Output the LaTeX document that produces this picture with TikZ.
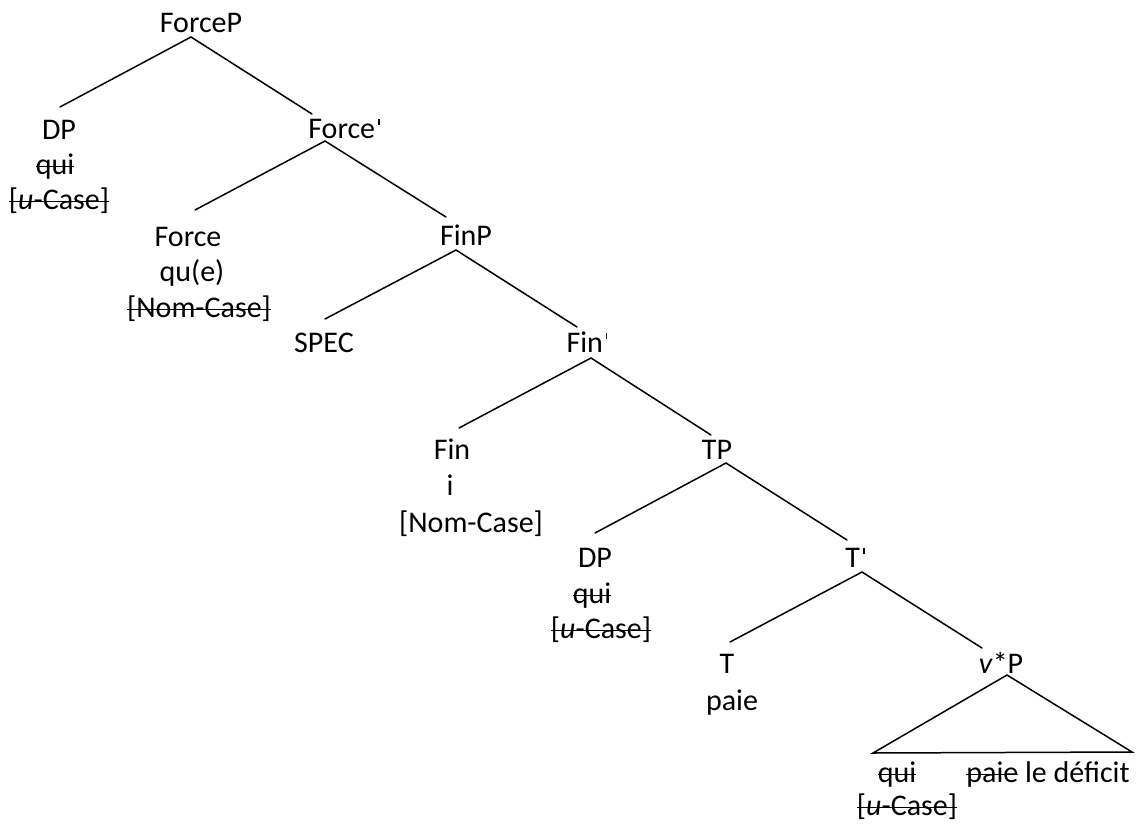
\documentclass[tikz,border=0pt]{standalone}
\usepackage{fontspec}
\setmainfont{Carlito}
\newcommand\stk[1]{\setbox0\hbox{#1}\rlap{\rule[0.23em]{\wd0}{1.3pt}}\box0\relax}
\newcommand\prm{\hspace{0.1em}\rule[0.43em]{0.05em}{0.2em}}
\tikzset{
  lab/.style={anchor=base, inner sep=0pt, font=\fontsize{30}{36}\selectfont},
  br/.style={line width=1.5pt, line cap=round, line join=miter}
}
\begin{document}
\begin{tikzpicture}[x=1pt, y=-1pt]
\useasboundingbox[fill=white] (0,0) rectangle (1138,828);
% nodes
\node[lab] (ForceP) at (201,32) {ForceP};
\node[lab] (DP1) at (59,139) {DP};
\node[lab] (DP1a) at (55,174) {\stk{qui}};
\node[lab] (DP1b) at (59,209) {\stk{[\textit{u}-Case]}};
\node[lab] (Forcebar) at (344,138) {Force\prm};
\node[lab] (Force) at (188,246) {Force};
\node[lab] (Forcea) at (192,281) {qu(e)};
\node[lab] (Forceb) at (199,317) {\stk{[Nom-Case]}};
\node[lab] (FinP) at (466,245) {FinP};
\node[lab] (SPEC) at (324,352) {SPEC};
\node[lab] (Finbar) at (587,352) {Fin\prm};
\node[lab] (Fin) at (452,459) {Fin};
\node[lab] (Fina) at (450,495) {i};
\node[lab] (Finb) at (471,532) {[Nom-Case]};
\node[lab] (TP) at (717,459) {TP};
\node[lab] (DP2) at (595,567) {DP};
\node[lab] (DP2a) at (592,603) {\stk{qui}};
\node[lab] (DP2b) at (601,638) {\stk{[\textit{u}-Case]}};
\node[lab] (Tbar) at (855,567) {T\prm};
\node[lab] (T) at (727,673) {T};
\node[lab] (Ta) at (732,710) {paie};
\node[lab] (vP) at (1001,673) {\textit{v}*P};
\node[lab] (tri1) at (897,782) {\stk{qui}};
\node[lab] (tri2) at (1048,782) {\stk{paie} le déficit};
\node[lab] (tri3) at (907,815) {\stk{[\textit{u}-Case]}};
% branch ends
\coordinate (ForceP-b) at (191,37);
\coordinate (DP1-t) at (60,107);
\coordinate (Forcebar-t) at (312,114);
\coordinate (Forcebar-b) at (325,141);
\coordinate (Force-t) at (195,210);
\coordinate (FinP-t) at (446,217);
\coordinate (FinP-b) at (456,250);
\coordinate (SPEC-t) at (325,319);
\coordinate (Finbar-t) at (577,327);
\coordinate (Finbar-b) at (591,358);
\coordinate (Fin-t) at (459,428);
\coordinate (TP-t) at (711,435);
\coordinate (TP-b) at (726,463);
\coordinate (DP2-t) at (595,533);
\coordinate (Tbar-t) at (847,540);
\coordinate (Tbar-b) at (862,572);
\coordinate (T-t) at (730,642);
\coordinate (vP-t) at (982,648);
\coordinate (vP-b) at (1007,675);
\coordinate (triL) at (873,753);
\coordinate (triR) at (1132,752);
% branches
\draw[br] (DP1-t) -- (ForceP-b) -- (Forcebar-t);
\draw[br] (Force-t) -- (Forcebar-b) -- (FinP-t);
\draw[br] (SPEC-t) -- (FinP-b) -- (Finbar-t);
\draw[br] (Fin-t) -- (Finbar-b) -- (TP-t);
\draw[br] (DP2-t) -- (TP-b) -- (Tbar-t);
\draw[br] (T-t) -- (Tbar-b) -- (vP-t);
\draw[br] (triL) -- (vP-b) -- (triR) -- cycle;
\end{tikzpicture}
\end{document}
